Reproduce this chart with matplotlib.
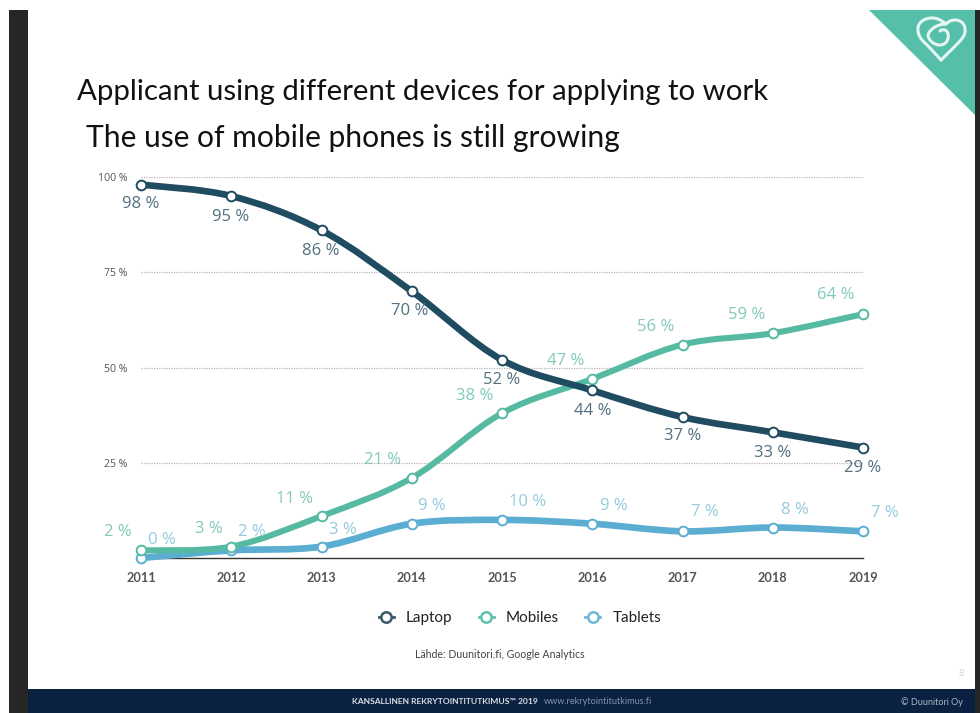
import matplotlib
matplotlib.use("Agg")
import matplotlib.pyplot as plt
import numpy as np
from matplotlib.lines import Line2D
from matplotlib.patches import PathPatch, Polygon, Rectangle
from matplotlib.path import Path

years = [2011, 2012, 2013, 2014, 2015, 2016, 2017, 2018, 2019]
laptop = [98, 95, 86, 70, 52, 44, 37, 33, 29]
mobiles = [2, 3, 11, 21, 38, 47, 56, 59, 64]
tablets = [0, 2, 3, 9, 10, 9, 7, 8, 7]
y_ticks = [25, 50, 75, 100]

# label offsets from each point, in pixels
laptop_off = [(0, -19), (-1, -21), (-1, -21), (-2, -20), (0, -20), (0, -21), (0, -19), (0, -21), (0, -20)]
mobiles_off = [(-23, 18), (-22, 18), (-27, 17), (-29, 18), (-27, 17), (-27, 18), (-27, 18), (-26, 18), (-27, 19)]
tablets_off = [(21, 18), (21, 18), (21, 17), (20, 18), (26, 18), (22, 18), (22, 19), (22, 18), (22, 18)]

DARK = "#1f4c61"
TEAL = "#56b9a2"
BLUE = "#5cadd2"
W, H = 980, 713


def smooth_path(xs, ys):
    # Catmull-Rom segments written as cubic beziers
    p = np.column_stack([xs, ys]).astype(float)
    verts = [p[0]]
    codes = [Path.MOVETO]
    for i in range(len(p) - 1):
        before = p[max(i - 1, 0)]
        after = p[min(i + 2, len(p) - 1)]
        verts += [p[i] + (p[i + 1] - before) / 6, p[i + 1] - (after - p[i]) / 6, p[i + 1]]
        codes += [Path.CURVE4] * 3
    return Path(verts, codes)


fig = plt.figure(figsize=(W / 100, H / 100), dpi=100, facecolor="white")

# slide furniture, drawn in pixel coordinates
bg = fig.add_axes([0, 0, 1, 1])
bg.set_xlim(0, W)
bg.set_ylim(H, 0)
bg.axis("off")
bg.add_patch(Rectangle((9, 10), 19, H - 10, color="#262626", lw=0))
bg.add_patch(Rectangle((975, 10), 5, H - 10, color="#262626", lw=0))
bg.add_patch(Rectangle((28, 689), 947, 24, color="#0b2142", lw=0))
bg.add_patch(Polygon([(869, 10), (975, 10), (975, 115)], color="#55bfa9", lw=0))

# heart logo
heart = Path(
    [(941, 60), (930, 48), (924, 42), (917, 36), (914, 23), (926, 19), (935, 16), (941, 20), (946, 24),
     (952, 17), (966, 19), (965, 31), (965, 38), (957, 44), (941, 60)],
    [Path.MOVETO, Path.LINETO, Path.LINETO] + [Path.CURVE4] * 12,
)
curl = Path(
    [(946, 24), (936, 24), (928, 31), (928, 36), (930, 44), (942, 49), (947, 41), (951, 33), (945, 27), (940, 31)],
    [Path.MOVETO] + [Path.CURVE4] * 9,
)
for shape in (heart, curl):
    bg.add_patch(PathPatch(shape, fc="none", ec="#e4f6f1", lw=2.2, capstyle="round", joinstyle="round"))

bg.text(77, 100, "Applicant using different devices for applying to work", fontsize=21.2, family="Lato", color="#111111")
bg.text(86, 147, "The use of mobile phones is still growing", fontsize=21.6, family="Lato", color="#111111")
bg.text(500, 654, "Lähde: Duunitori.fi, Google Analytics", fontsize=7.6, family="Lato", color="#444444", ha="center", va="center")
bg.text(961, 674, "8", fontsize=7, family="Lato", color="#d5d5d5", ha="center", va="center")
bg.text(445, 702, "KANSALLINEN REKRYTOINTITUTKIMUS™ 2019", fontsize=6.1, family="Lato", weight="bold", color="#d9dde4", ha="center", va="center")
bg.text(544, 702, "www.rekrytointitutkimus.fi", fontsize=6.6, family="Lato", color="#7f93ab", va="center")
bg.text(963, 702, "© Duunitori Oy", fontsize=6.5, family="Lato", color="#aab6c6", ha="right", va="center")

# chart area
ax = fig.add_axes([141 / W, 1 - 558 / H, (863 - 141) / W, (558 - 177) / H])
ax.patch.set_alpha(0)
ax.set_xlim(years[0], years[-1])
ax.set_ylim(0, 100)
for side in ("top", "left", "right"):
    ax.spines[side].set_visible(False)
ax.spines["bottom"].set_color("#333333")
ax.spines["bottom"].set_linewidth(1.0)
ax.set_xticks(years)
ax.set_yticks(y_ticks)
ax.set_yticklabels([f"{t} %" for t in y_ticks], fontsize=7.6, family="Open Sans", color="#555555")
ax.set_xticklabels(years, fontsize=9.2, family="Lato", weight="bold", color="#555555")
ax.tick_params(axis="x", length=0, pad=10)
ax.tick_params(axis="y", length=0, pad=10)
ax.yaxis.grid(True, color="#b5b5b5", lw=0.9, ls=(0, (1, 1)))
ax.set_axisbelow(True)

series = [
    (tablets, BLUE, "#93cade", tablets_off, "Tablets", 4.8),
    (mobiles, TEAL, "#80cabb", mobiles_off, "Mobiles", 4.4),
    (laptop, DARK, "#52707f", laptop_off, "Laptop", 4.8),
]
for z, (values, color, label_color, offsets, name, width) in enumerate(series):
    ax.add_patch(PathPatch(smooth_path(years, values), fc="none", ec=color, lw=width, capstyle="round", clip_on=False, zorder=3 + z))
    ax.plot(years, values, ls="none", marker="o", ms=7, mfc="white", mec=color, mew=1.4, clip_on=False, zorder=3 + z)
    for x, v, (dx, dy) in zip(years, values, offsets):
        ax.annotate(f"{v} %", (x, v), xytext=(dx * 0.72, dy * 0.72), textcoords="offset points",
                    ha="center", va="center", fontsize=12, family="Open Sans", color=label_color, zorder=8)

# legend
handles = [
    Line2D([], [], color=c, lw=2, marker="o", ms=7.5, mfc="white", mec=c, mew=1.8, label=n)
    for n, c in (("Laptop", "#3a5a68"), ("Mobiles", "#62bfae"), ("Tablets", "#6fb9d6"))
]
leg = fig.legend(handles=handles, loc="center", bbox_to_anchor=(520 / W, 1 - 618 / H), ncol=3, frameon=False,
                 handlelength=1.0, handletextpad=0.8, columnspacing=1.7,
                 prop={"family": "Lato", "size": 11})
for text in leg.get_texts():
    text.set_color("#222222")

fig.savefig("out.png", dpi=100)
